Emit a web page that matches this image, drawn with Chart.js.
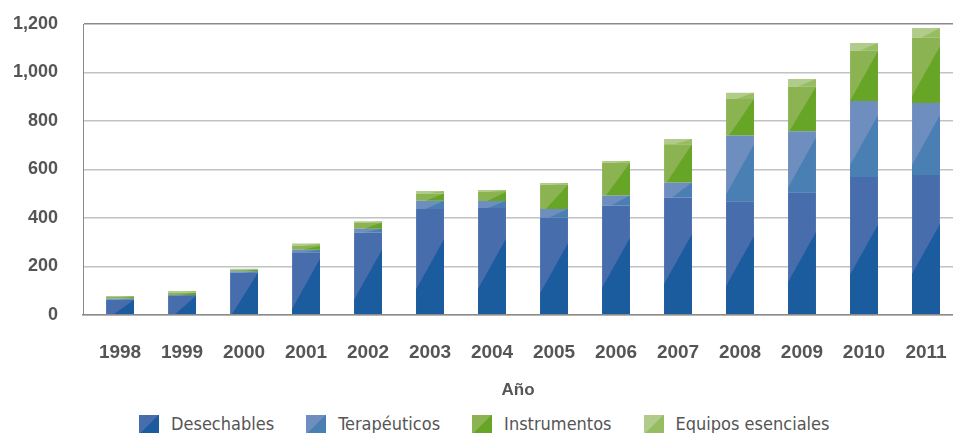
<!DOCTYPE html>
<html lang="es">
<head>
    <meta charset="UTF-8">
    <title>Productos por año</title>
    <script src="https://cdn.jsdelivr.net/npm/chart.js"></script>
    <style>
        body {
            margin: 0;
            background-color: #ffffff;
            font-family: 'Liberation Sans', Arial, sans-serif;
        }
        .wrap {
            position: relative;
            width: 953px;
            height: 433px;
        }
        .chart-box {
            position: absolute;
            left: 0;
            top: 0;
            width: 953px;
            height: 405px;
        }
        #legend {
            position: absolute;
            left: 139px;
            top: 414px;
            display: flex;
            align-items: center;
            font-family: 'DejaVu Sans Condensed', 'Liberation Sans', sans-serif;
            font-size: 18px;
            color: #555555;
            line-height: 20px;
        }
        .item {
            display: flex;
            align-items: center;
            margin-right: 32px;
        }
        .swatch {
            width: 20px;
            height: 19px;
            margin-right: 12px;
        }
    </style>
</head>
<body>
    <div class="wrap">
        <div class="chart-box">
            <canvas id="barChart"></canvas>
        </div>
        <div id="legend"></div>
    </div>

    <script>
        const years = ['1998', '1999', '2000', '2001', '2002', '2003', '2004', '2005', '2006', '2007', '2008', '2009', '2010', '2011'];
        const desechables = [62, 78, 174, 258, 340, 437, 441, 401, 451, 484, 466, 504, 569, 577];
        const terapeuticos = [5, 4, 6, 10, 15, 34, 29, 36, 41, 62, 274, 253, 313, 297];
        const instrumentos = [6, 10, 6, 16, 26, 30, 37, 100, 135, 158, 151, 184, 208, 269];
        const equipos = [5, 6, 4, 10, 5, 10, 8, 7, 8, 21, 25, 32, 32, 40];
        const yTicks = [0, 200, 400, 600, 800, 1000, 1200];

        const seriesNames = ['Desechables', 'Terapéuticos', 'Instrumentos', 'Equipos esenciales'];
        const lightColors = ['#486dad', '#6f8ec0', '#8cb352', '#b1cc8a'];
        const darkColors = ['#1b5c9f', '#4a7fb3', '#67a526', '#97bd63'];

        const X_PAD = 27;
        const Y_PAD = 25;

        // darker diagonal part of every bar segment
        const shadePlugin = {
            id: 'shade',
            afterDatasetsDraw(chart) {
                const ctx = chart.ctx;
                chart.data.datasets.forEach((ds, di) => {
                    const meta = chart.getDatasetMeta(di);
                    meta.data.forEach(bar => {
                        const p = bar.getProps(['x', 'y', 'base', 'width'], true);
                        const left = p.x - p.width / 2;
                        const right = p.x + p.width / 2;
                        const top = Math.min(p.y, p.base);
                        const bottom = Math.max(p.y, p.base);
                        const h = bottom - top;
                        if (h <= 0) return;
                        const off = Math.max(0, (h - 50) * 0.45);
                        const rise = Math.min(h, 50);
                        const sx = left + p.width * 0.4 * Math.max(0, 1 - h / 50);
                        ctx.save();
                        ctx.beginPath();
                        ctx.rect(left, top, p.width, h);
                        ctx.clip();
                        ctx.beginPath();
                        ctx.moveTo(left, bottom);
                        ctx.lineTo(left, bottom - off);
                        ctx.lineTo(sx, bottom - off);
                        ctx.lineTo(right, bottom - off - rise);
                        ctx.lineTo(right, bottom);
                        ctx.closePath();
                        ctx.fillStyle = darkColors[di];
                        ctx.fill();
                        ctx.restore();
                    });
                });
            }
        };

        // categories sit a little to the right of the left axis line
        const xShiftPlugin = {
            id: 'xShift',
            afterLayout(chart) {
                const s = chart.scales.x;
                s._startPixel = s.left + 6;
                s._endPixel = s.right + 4;
                s._length = s._endPixel - s._startPixel;
            }
        };

        const allSeries = [desechables, terapeuticos, instrumentos, equipos];

        new Chart(document.getElementById('barChart'), {
            type: 'bar',
            data: {
                labels: years,
                datasets: allSeries.map((vals, i) => ({
                    label: seriesNames[i],
                    data: vals,
                    backgroundColor: lightColors[i],
                    borderWidth: 0,
                    barPercentage: 0.45,
                    categoryPercentage: 1
                }))
            },
            options: {
                responsive: true,
                maintainAspectRatio: false,
                animation: false,
                layout: {
                    padding: { left: 13, top: 24, right: 0, bottom: 4 }
                },
                scales: {
                    x: {
                        stacked: true,
                        afterFit: (scale) => {
                            scale.paddingLeft = 0;
                            scale.paddingRight = 0;
                            scale.height -= X_PAD;
                        },
                        grid: { display: false, drawTicks: false },
                        border: { display: true, color: '#8a8a8a', width: 1.5 },
                        ticks: {
                            padding: X_PAD,
                            maxRotation: 0,
                            minRotation: 0,
                            autoSkip: false,
                            color: '#555555',
                            font: { family: "'Liberation Sans', Arial, sans-serif", size: 19, weight: 'bold' }
                        },
                        title: {
                            display: true,
                            text: 'Año',
                            color: '#555555',
                            padding: { top: 16, bottom: 0 },
                            font: { family: "'Liberation Sans', Arial, sans-serif", size: 17, weight: 'bold' }
                        }
                    },
                    y: {
                        stacked: true,
                        min: 0,
                        max: yTicks[yTicks.length - 1],
                        afterFit: (scale) => {
                            scale.paddingTop = 0;
                            scale.paddingBottom = 0;
                            scale.width -= Y_PAD;
                        },
                        afterBuildTicks: (axis) => {
                            axis.ticks = yTicks.map(v => ({ value: v }));
                        },
                        grid: {
                            drawTicks: false,
                            lineWidth: 1.5,
                            color: (c) => c.tick && c.tick.value === 1200 ? '#8a8a8a' : '#c2c2c2'
                        },
                        border: { display: true, color: '#8a8a8a', width: 1 },
                        ticks: {
                            padding: Y_PAD,
                            color: '#555555',
                            font: { family: "'Liberation Sans', Arial, sans-serif", size: 18, weight: 'bold' },
                            callback: (v) => Number(v).toLocaleString('en-US')
                        }
                    }
                },
                plugins: {
                    legend: { display: false },
                    tooltip: { enabled: false }
                }
            },
            plugins: [shadePlugin, xShiftPlugin]
        });

        const legendBox = document.getElementById('legend');
        seriesNames.forEach((name, i) => {
            const item = document.createElement('div');
            item.className = 'item';
            const sw = document.createElement('span');
            sw.className = 'swatch';
            sw.style.background = `linear-gradient(to bottom right, ${lightColors[i]} 50%, ${darkColors[i]} 50%)`;
            const txt = document.createElement('span');
            txt.textContent = name;
            item.appendChild(sw);
            item.appendChild(txt);
            legendBox.appendChild(item);
        });
    </script>
</body>
</html>
